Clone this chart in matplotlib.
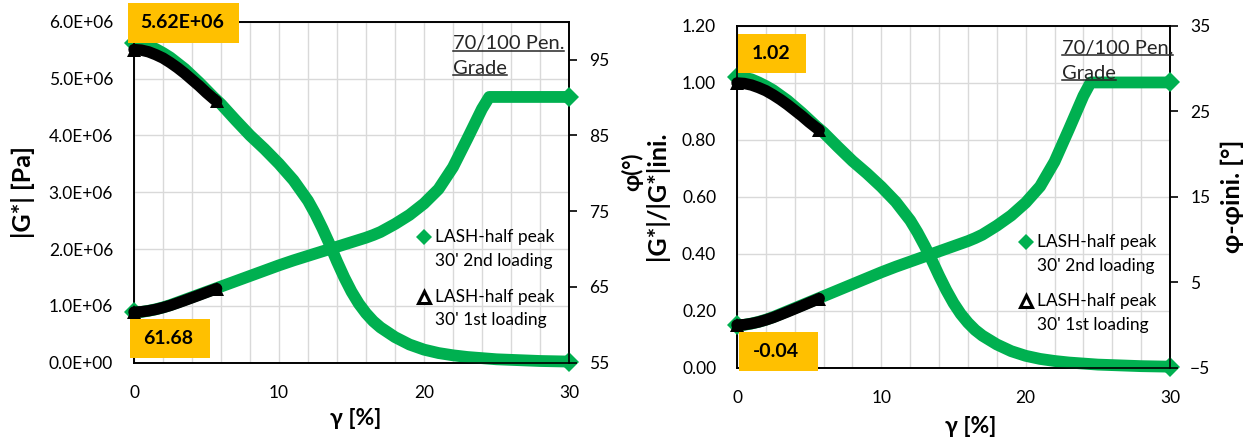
import matplotlib
matplotlib.use("Agg")
import matplotlib.pyplot as plt
import numpy as np
from matplotlib.ticker import FuncFormatter, MultipleLocator, FixedLocator
from matplotlib.patches import Rectangle

plt.rcParams['font.family'] = ['Lato', 'DejaVu Sans']

# ---------------- data ----------------
gamma_2nd = [0, 0.5, 1, 1.5, 2, 2.5, 3, 3.5, 4, 4.5, 5, 5.5, 6, 7, 8, 9, 10, 11, 12,
             12.5, 13, 13.5, 14, 14.5, 15, 15.5, 16, 16.5, 17, 18, 19, 20, 21, 22,
             23, 24, 24.5, 25, 26, 27, 28, 29, 30]
G_2nd = [5.62e6, 5.61e6, 5.58e6, 5.52e6, 5.45e6, 5.37e6, 5.27e6, 5.17e6, 5.05e6, 4.93e6,
         4.80e6, 4.67e6, 4.55e6, 4.27e6, 4.00e6, 3.76e6, 3.50e6, 3.21e6, 2.85e6,
         2.62e6, 2.36e6, 2.08e6, 1.78e6, 1.50e6, 1.25e6, 1.04e6, 0.87e6, 0.73e6, 0.62e6,
         0.45e6, 0.32e6, 0.23e6, 0.17e6, 0.13e6, 0.10e6, 0.08e6, 0.07e6, 0.06e6, 0.05e6,
         0.04e6, 0.03e6, 0.025e6, 0.02e6]
phi_2nd = [61.64, 61.70, 61.85, 62.05, 62.30, 62.60, 62.95, 63.30, 63.65, 64.00,
           64.35, 64.70, 65.05, 65.75, 66.45, 67.15, 67.85, 68.50, 69.10,
           69.40, 69.70, 70.00, 70.30, 70.60, 70.90, 71.20, 71.50, 71.85, 72.25,
           73.30, 74.50, 76.00, 77.90, 80.80, 84.60, 88.50, 90.07, 90.07, 90.07,
           90.07, 90.07, 90.07, 90.07]

gamma_1st = [0, 0.5, 1, 1.5, 2, 2.5, 3, 3.5, 4, 4.5, 5, 5.5, 5.7]
G_1st = [5.51e6, 5.50e6, 5.47e6, 5.42e6, 5.36e6, 5.28e6, 5.19e6, 5.09e6, 4.98e6,
         4.87e6, 4.75e6, 4.64e6, 4.60e6]
phi_1st = [61.68, 61.72, 61.85, 62.03, 62.27, 62.55, 62.88, 63.22, 63.57,
           63.92, 64.28, 64.63, 64.78]

G_ini = G_1st[0]
phi_ini = phi_1st[0]
Gn_2nd = [g / G_ini for g in G_2nd]
Gn_1st = [g / G_ini for g in G_1st]
dphi_2nd = [p - phi_ini for p in phi_2nd]
dphi_1st = [p - phi_ini for p in phi_1st]

label_2nd = "LASH-half peak\n30' 2nd loading"
label_1st = "LASH-half peak\n30' 1st loading"
grade_lines = ["70/100 Pen.", "Grade"]
x_ticks = [0, 10, 20, 30]

GREEN = '#00B050'
GOLD = '#FFC000'
GRID = '#D9D9D9'

W, H = 1254, 443
fig = plt.figure(figsize=(W / 100, H / 100), dpi=100)


def px_rect(x0, y0, x1, y1):
    return [x0 / W, (H - y1) / H, (x1 - x0) / W, (y1 - y0) / H]


ax1 = fig.add_axes(px_rect(134, 21.7, 569, 362.7))
ax2 = fig.add_axes(px_rect(737, 26, 1170, 367.7))
ax1r = ax1.twinx()
ax2r = ax2.twinx()

TICK_FS = 12.5


def style_base(ax, ylim, yticks, fmt):
    ax.set_xlim(0, 30)
    ax.set_ylim(*ylim)
    ax.xaxis.set_major_locator(FixedLocator(x_ticks))
    ax.xaxis.set_minor_locator(MultipleLocator(2))
    ax.yaxis.set_major_locator(FixedLocator(yticks))
    ax.yaxis.set_major_formatter(FuncFormatter(fmt))
    ax.grid(True, which='both', axis='x', color=GRID, lw=1)
    ax.grid(True, which='major', axis='y', color=GRID, lw=1)
    ax.set_axisbelow(True)
    ax.tick_params(axis='x', which='both', length=0, pad=16, labelsize=TICK_FS)
    ax.tick_params(axis='y', which='both', length=0, pad=15, labelsize=TICK_FS)
    for s in ax.spines.values():
        s.set_color('black')
        s.set_linewidth(1.2)


def style_right(ax, ylim, yticks):
    ax.set_ylim(*ylim)
    ax.yaxis.set_major_locator(FixedLocator(yticks))
    ax.tick_params(axis='y', direction='out', length=5.5, width=1.2, pad=9,
                   labelsize=TICK_FS, color='black')
    for s in ax.spines.values():
        s.set_color('black')
        s.set_linewidth(1.2)


style_base(ax1, (0, 6e6), np.arange(0, 6.01e6, 1e6), lambda v, p: f"{v:.1E}")
style_base(ax2, (0, 1.2), np.arange(0, 1.201, 0.2), lambda v, p: f"{v:.2f}")
style_right(ax1r, (55, 100), [55, 65, 75, 85, 95])
style_right(ax2r, (-5, 35), [-5, 5, 15, 25, 35])


def band(ax, x, y, color, marker, lw, ms, z, ends):
    ax.plot(x, y, color=color, lw=lw, solid_capstyle='round', solid_joinstyle='round',
            clip_on=False, zorder=z)
    ax.plot(x, y, ls='none', marker=marker, ms=ms, mec=color, mfc=color, mew=0,
            markevery=ends, clip_on=False, zorder=z)


band(ax1, gamma_2nd, G_2nd, GREEN, 'D', 8.5, 10, 3, [0, -1])
band(ax1, gamma_1st, G_1st, 'black', '^', 8.2, 10.5, 4, [0, -1])
band(ax1r, gamma_2nd, phi_2nd, GREEN, 'D', 8.5, 10, 3, [0, -1])
band(ax1r, gamma_1st, phi_1st, 'black', '^', 8.2, 10.5, 4, [0, -1])
band(ax2, gamma_2nd, Gn_2nd, GREEN, 'D', 8.5, 10, 3, [0, -1])
band(ax2, gamma_1st, Gn_1st, 'black', '^', 8.2, 10.5, 4, [0, -1])
band(ax2r, gamma_2nd, dphi_2nd, GREEN, 'D', 8.5, 10, 3, [0, -1])
band(ax2r, gamma_1st, dphi_1st, 'black', '^', 8.2, 10.5, 4, [0, -1])

YLAB_FS = 18
XLAB_FS = 16.5
# axis labels
ax1.set_xlabel('γ [%]', fontsize=XLAB_FS, fontweight='bold', va='center')
ax1.xaxis.set_label_coords(0.51, -0.165)
ax2.set_xlabel('γ [%]', fontsize=XLAB_FS, fontweight='bold', va='center')
ax2.xaxis.set_label_coords(0.54, -0.172)
ax1.set_ylabel('|G*| [Pa]', fontsize=YLAB_FS, fontweight='bold', va='center')
ax1.yaxis.set_label_coords(-0.255, 0.50)
ax1r.set_ylabel('φ(°)', fontsize=16, fontweight='bold', va='center', rotation=90)
ax1r.yaxis.set_label_coords(1.145, 0.559)
ax2.set_ylabel('|G*|/|G*|ini.', fontsize=YLAB_FS, fontweight='bold', va='center')
ax2.yaxis.set_label_coords(-0.185, 0.502)
ax2r.set_ylabel('φ-φini. [°]', fontsize=YLAB_FS, fontweight='bold', va='center', rotation=90)
ax2r.yaxis.set_label_coords(1.143, 0.502)

# legends (manual, marker aligned with first text line)
LEG_FS = 12.5
for ax in (ax1r, ax2r):
    mx, tx = 0.667, 0.692
    ax.plot([mx], [0.368], marker='D', ms=8, color=GREEN, mew=0,
            transform=ax.transAxes, clip_on=False, zorder=6)
    ax.text(tx, 0.368, label_2nd.split('\n')[0], transform=ax.transAxes,
            fontsize=LEG_FS, va='center', ha='left')
    ax.text(tx, 0.298, label_2nd.split('\n')[1], transform=ax.transAxes,
            fontsize=LEG_FS, va='center', ha='left')
    ax.plot([mx], [0.194], marker='^', ms=9, mfc='white', mec='black', mew=2.2,
            transform=ax.transAxes, clip_on=False, zorder=6)
    ax.text(tx, 0.194, label_1st.split('\n')[0], transform=ax.transAxes,
            fontsize=LEG_FS, va='center', ha='left')
    ax.text(tx, 0.126, label_1st.split('\n')[1], transform=ax.transAxes,
            fontsize=LEG_FS, va='center', ha='left')

# grade text (underlined)
grade_texts = []
for ax, gx in ((ax1r, 0.733), (ax2r, 0.75)):
    t1 = ax.text(gx, 0.935, grade_lines[0], transform=ax.transAxes, fontsize=14.5,
                 va='center', ha='left', color='#262626')
    t2 = ax.text(gx, 0.862, grade_lines[1], transform=ax.transAxes, fontsize=14.5,
                 va='center', ha='left', color='#262626')
    grade_texts.append((ax, t1))
    grade_texts.append((ax, t2))

# value boxes (pixel layout)
boxes = [((128, 3, 239, 43), '5.62E+06', 182),
         ((130, 319, 210, 358), '61.68', 168),
         ((738, 34, 806, 73), '1.02', 771),
         ((739, 332, 818, 371), '-0.04', 776)]
for (x0, y0, x1, y1), s, tcx in boxes:
    r = Rectangle((x0 / W, (H - y1) / H), (x1 - x0) / W, (y1 - y0) / H,
                  transform=fig.transFigure, facecolor=GOLD, edgecolor='none', zorder=10)
    fig.add_artist(r)
    fig.text(tcx / W, (H - (y0 + y1) / 2) / H, s, fontsize=14, fontweight='bold',
             ha='center', va='center', zorder=11)

# underline grade text
fig.canvas.draw()
renderer = fig.canvas.get_renderer()
inv = fig.transFigure.inverted()
for ax, t in grade_texts:
    bb = t.get_window_extent(renderer)
    (fx0, fy0), (fx1, fy1) = inv.transform([(bb.x0, bb.y0), (bb.x1, bb.y1)])
    yline = fy0 + 0.004
    fig.add_artist(plt.Line2D([fx0, fx1], [yline, yline], transform=fig.transFigure,
                              color='#262626', lw=1.1, zorder=12))

fig.savefig('out.png', dpi=100)
